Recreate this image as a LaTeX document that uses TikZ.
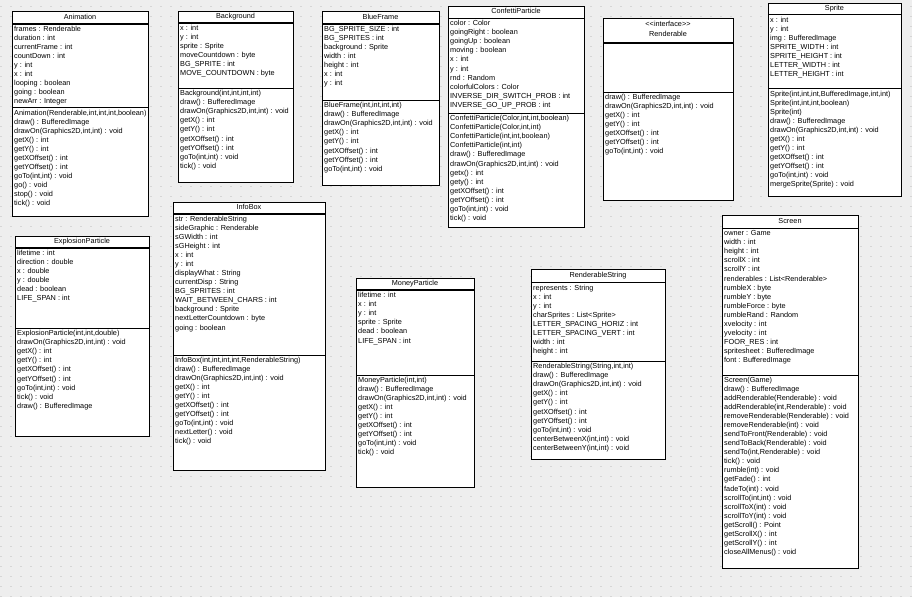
\documentclass[tikz,border=0pt]{standalone}
\usepackage{fontspec}
\setmainfont{Liberation Sans}
\usepackage{tikz}
\def\ls{9.07}
\def\mf{\fontsize{7.3}{8}\selectfont}
\definecolor{paper}{RGB}{238,238,238}
\definecolor{dots}{RGB}{214,214,214}
\tikzset{
  classbox/.style={draw=black, fill=white, line width=0.8pt},
  headsep/.style={line width=1.5pt},
  partsep/.style={line width=1pt},
  clsname/.style={font=\mf, inner sep=0pt, text height=5pt, text depth=1.6pt},
  member/.style={font=\mf, anchor=west, inner sep=0pt, text height=5pt, text depth=1.6pt}
}

\begin{document}
\begin{tikzpicture}[x=1pt, y=-1pt]
\fill[paper] (0,0) rectangle (912,597);
\useasboundingbox (0,0) rectangle (912,597);
\foreach \yy in {6,16,...,596}{
	\draw[dots, line width=1pt, dash pattern=on 1.5pt off 8.5pt] (0,\yy) -- (912,\yy);
}

% Animation
\coordinate (anim-nw) at (12,11);
\coordinate (anim-se) at (148,216);
\draw[classbox] (anim-nw) rectangle (anim-se);
\draw[headsep] (12,24) -- (148,24);
\draw[partsep] (12,107) -- (148,107);
\node[clsname] (anim) at (80,17.5) {Animation};
\foreach \t [count=\i from 0] in {frames : Renderable, duration : int, currentFrame : int, countDown : int, y : int, x : int, looping : boolean, going : boolean, newArr : Integer}
	\node[member] (anim-a\i) at (14,{29.5+\i*\ls}) {\t};
\foreach \t [count=\i from 0] in {{Animation(Renderable,int,int,int,boolean)}, draw() : BufferedImage, {drawOn(Graphics2D,int,int) : void}, getX() : int, getY() : int, getXOffset() : int, getYOffset() : int, {goTo(int,int) : void}, go() : void, stop() : void, tick() : void}
	\node[member] (anim-m\i) at (14,{113.5+\i*\ls}) {\t};

% Background
\coordinate (bg-nw) at (178,11);
\coordinate (bg-se) at (293,182);
\draw[classbox] (bg-nw) rectangle (bg-se);
\draw[headsep] (178,23) -- (293,23);
\draw[partsep] (178,88) -- (293,88);
\node[clsname] (bg) at (235.5,17) {Background};
\foreach \t [count=\i from 0] in {x : int, y : int, sprite : Sprite, moveCountdown : byte, BG\_SPRITE : int, MOVE\_COUNTDOWN : byte}
	\node[member] (bg-a\i) at (180,{28.5+\i*\ls}) {\t};
\foreach \t [count=\i from 0] in {{Background(int,int,int,int)}, draw() : BufferedImage, {drawOn(Graphics2D,int,int) : void}, getX() : int, getY() : int, getXOffset() : int, getYOffset() : int, {goTo(int,int) : void}, tick() : void}
	\node[member] (bg-m\i) at (180,{94+\i*\ls}) {\t};

% BlueFrame
\coordinate (blue-nw) at (322,11);
\coordinate (blue-se) at (439,185);
\draw[classbox] (blue-nw) rectangle (blue-se);
\draw[headsep] (322,24) -- (439,24);
\draw[partsep] (322,100) -- (439,100);
\node[clsname] (blue) at (380.5,17.5) {BlueFrame};
\foreach \t [count=\i from 0] in {BG\_SPRITE\_SIZE : int, BG\_SPRITES : int, background : Sprite, width : int, height : int, x : int, y : int}
	\node[member] (blue-a\i) at (324,{29.5+\i*\ls}) {\t};
\foreach \t [count=\i from 0] in {{BlueFrame(int,int,int,int)}, draw() : BufferedImage, {drawOn(Graphics2D,int,int) : void}, getX() : int, getY() : int, getXOffset() : int, getYOffset() : int, {goTo(int,int) : void}}
	\node[member] (blue-m\i) at (324,{106+\i*\ls}) {\t};

% ConfettiParticle
\coordinate (conf-nw) at (448,6);
\coordinate (conf-se) at (584,227);
\draw[classbox] (conf-nw) rectangle (conf-se);
\draw[headsep] (448,18.5) -- (584,18.5);
\draw[partsep] (448,113.5) -- (584,113.5);
\node[clsname] (conf) at (516,12) {ConfettiParticle};
\foreach \t [count=\i from 0] in {color : Color, goingRight : boolean, goingUp : boolean, moving : boolean, x : int, y : int, rnd : Random, colorfulColors : Color, INVERSE\_DIR\_SWITCH\_PROB : int, INVERSE\_GO\_UP\_PROB : int}
	\node[member] (conf-a\i) at (450,{24+\i*\ls}) {\t};
\foreach \t [count=\i from 0] in {{ConfettiParticle(Color,int,int,boolean)}, {ConfettiParticle(Color,int,int)}, {ConfettiParticle(int,int,boolean)}, {ConfettiParticle(int,int)}, draw() : BufferedImage, {drawOn(Graphics2D,int,int) : void}, getx() : int, gety() : int, getXOffset() : int, getYOffset() : int, {goTo(int,int) : void}, tick() : void}
	\node[member] (conf-m\i) at (450,{119+\i*\ls}) {\t};

% Renderable
\coordinate (rend-nw) at (603,18);
\coordinate (rend-se) at (733,200);
\draw[classbox] (rend-nw) rectangle (rend-se);
\draw[headsep] (603,43) -- (733,43);
\draw[partsep] (603,92) -- (733,92);
\node[clsname] (rend-st) at (668,25) {<\kern0pt<interface>\kern0pt>};
\node[clsname] (rend) at (668,35) {Renderable};
\foreach \t [count=\i from 0] in {draw() : BufferedImage, {drawOn(Graphics2D,int,int) : void}, getX() : int, getY() : int, getXOffset() : int, getYOffset() : int, {goTo(int,int) : void}}
	\node[member] (rend-m\i) at (605,{97.5+\i*\ls}) {\t};

% Sprite
\coordinate (spr-nw) at (768,3);
\coordinate (spr-se) at (901,196);
\draw[classbox] (spr-nw) rectangle (spr-se);
\draw[headsep] (768,14.5) -- (901,14.5);
\draw[partsep] (768,88.5) -- (901,88.5);
\node[clsname] (spr) at (834.5,8.5) {Sprite};
\foreach \t [count=\i from 0] in {x : int, y : int, img : BufferedImage, SPRITE\_WIDTH : int, SPRITE\_HEIGHT : int, LETTER\_WIDTH : int, LETTER\_HEIGHT : int}
	\node[member] (spr-a\i) at (770,{20.5+\i*\ls}) {\t};
\foreach \t [count=\i from 0] in {{Sprite(int,int,int,BufferedImage,int,int)}, {Sprite(int,int,int,boolean)}, Sprite(int), draw() : BufferedImage, {drawOn(Graphics2D,int,int) : void}, getX() : int, getY() : int, getXOffset() : int, getYOffset() : int, {goTo(int,int) : void}, mergeSprite(Sprite) : void}
	\node[member] (spr-m\i) at (770,{94.5+\i*\ls}) {\t};

% ExplosionParticle
\coordinate (expl-nw) at (15,236);
\coordinate (expl-se) at (149,436);
\draw[classbox] (expl-nw) rectangle (expl-se);
\draw[headsep] (15,248) -- (149,248);
\draw[partsep] (15,328.5) -- (149,328.5);
\node[clsname] (expl) at (82,242) {ExplosionParticle};
\foreach \t [count=\i from 0] in {lifetime : int, direction : double, x : double, y : double, dead : boolean, LIFE\_SPAN : int}
	\node[member] (expl-a\i) at (17,{253.5+\i*\ls}) {\t};
\foreach \t [count=\i from 0] in {{ExplosionParticle(int,int,double)}, {drawOn(Graphics2D,int,int) : void}, getX() : int, getY() : int, getXOffset() : int, getYOffset() : int, {goTo(int,int) : void}, tick() : void, draw() : BufferedImage}
	\node[member] (expl-m\i) at (17,{334+\i*\ls}) {\t};

% InfoBox
\coordinate (info-nw) at (173,202);
\coordinate (info-se) at (325,470);
\draw[classbox] (info-nw) rectangle (info-se);
\draw[headsep] (173,214) -- (325,214);
\draw[partsep] (173,355) -- (325,355);
\node[clsname] (info) at (249,208) {InfoBox};
\foreach \t [count=\i from 0] in {str : RenderableString, sideGraphic : Renderable, sGWidth : int, sGHeight : int, x : int, y : int, displayWhat : String, currentDisp : String, BG\_SPRITES : int, WAIT\_BETWEEN\_CHARS : int, background : Sprite, nextLetterCountdown : byte, going : boolean}
	\node[member] (info-a\i) at (175,{219.5+\i*\ls}) {\t};
\foreach \t [count=\i from 0] in {{InfoBox(int,int,int,int,RenderableString)}, draw() : BufferedImage, {drawOn(Graphics2D,int,int) : void}, getX() : int, getY() : int, getXOffset() : int, getYOffset() : int, {goTo(int,int) : void}, nextLetter() : void, tick() : void}
	\node[member] (info-m\i) at (175,{360.5+\i*\ls}) {\t};

% MoneyParticle
\coordinate (money-nw) at (356,278);
\coordinate (money-se) at (474,487);
\draw[classbox] (money-nw) rectangle (money-se);
\draw[headsep] (356,290) -- (474,290);
\draw[partsep] (356,375) -- (474,375);
\node[clsname] (money) at (415,284) {MoneyParticle};
\foreach \t [count=\i from 0] in {lifetime : int, x : int, y : int, sprite : Sprite, dead : boolean, LIFE\_SPAN : int}
	\node[member] (money-a\i) at (358,{296+\i*\ls}) {\t};
\foreach \t [count=\i from 0] in {{MoneyParticle(int,int)}, draw() : BufferedImage, {drawOn(Graphics2D,int,int) : void}, getX() : int, getY() : int, getXOffset() : int, getYOffset() : int, {goTo(int,int) : void}, tick() : void}
	\node[member] (money-m\i) at (358,{380.5+\i*\ls}) {\t};

% RenderableString
\coordinate (rstr-nw) at (531,269);
\coordinate (rstr-se) at (665,459);
\draw[classbox] (rstr-nw) rectangle (rstr-se);
\draw[headsep] (531,282.5) -- (665,282.5);
\draw[partsep] (531,361.5) -- (665,361.5);
\node[clsname] (rstr) at (598,275.5) {RenderableString};
\foreach \t [count=\i from 0] in {represents : String, x : int, y : int, charSprites : List<Sprite>, LETTER\_SPACING\_HORIZ : int, LETTER\_SPACING\_VERT : int, width : int, height : int}
	\node[member] (rstr-a\i) at (533,{288.5+\i*\ls}) {\t};
\foreach \t [count=\i from 0] in {{RenderableString(String,int,int)}, draw() : BufferedImage, {drawOn(Graphics2D,int,int) : void}, getX() : int, getY() : int, getXOffset() : int, getYOffset() : int, {goTo(int,int) : void}, {centerBetweenX(int,int) : void}, {centerBetweenY(int,int) : void}}
	\node[member] (rstr-m\i) at (533,{367+\i*\ls}) {\t};

% Screen
\coordinate (scr-nw) at (722,215);
\coordinate (scr-se) at (858,568);
\draw[classbox] (scr-nw) rectangle (scr-se);
\draw[headsep] (722,228.5) -- (858,228.5);
\draw[partsep] (722,375) -- (858,375);
\node[clsname] (scr) at (790,221.5) {Screen};
\foreach \t [count=\i from 0] in {owner : Game, width : int, height : int, scrollX : int, scrollY : int, renderables : List<Renderable>, rumbleX : byte, rumbleY : byte, rumbleForce : byte, rumbleRand : Random, xvelocity : int, yvelocity : int, FOOR\_RES : int, spritesheet : BufferedImage, font : BufferedImage}
	\node[member] (scr-a\i) at (724,{234+\i*\ls}) {\t};
\foreach \t [count=\i from 0] in {Screen(Game), draw() : BufferedImage, addRenderable(Renderable) : void, {addRenderable(int,Renderable) : void}, removeRenderable(Renderable) : void, removeRenderable(int) : void, sendToFront(Renderable) : void, sendToBack(Renderable) : void, {sendTo(int,Renderable) : void}, tick() : void, rumble(int) : void, getFade() : int, fadeTo(int) : void, {scrollTo(int,int) : void}, scrollToX(int) : void, scrollToY(int) : void, getScroll() : Point, getScrollX() : int, getScrollY() : int, closeAllMenus() : void}
	\node[member] (scr-m\i) at (724,{380.5+\i*\ls}) {\t};
\end{tikzpicture}
\end{document}
